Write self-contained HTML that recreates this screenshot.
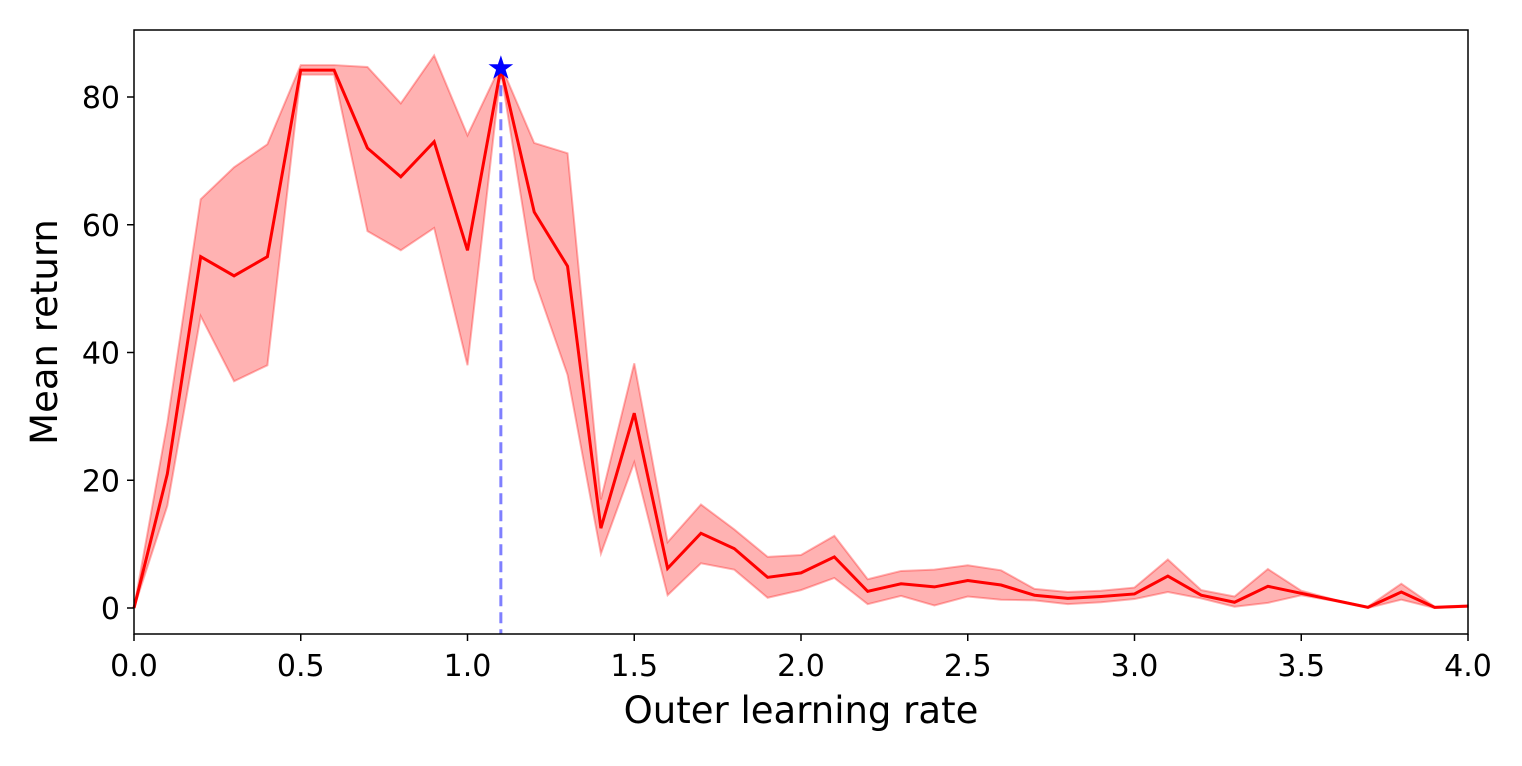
<!DOCTYPE html>
<html><head><meta charset="utf-8"><style>
body{margin:0;background:#fff;}
svg text{font-family:"DejaVu Sans","Liberation Sans",sans-serif;fill:#000;}
</style></head><body>
<svg id="chart" width="1522" height="761"></svg>
<script>
const xs = [0,0.1,0.2,0.3,0.4,0.5,0.6,0.7,0.8,0.9,1.0,1.1,1.2,1.3,1.4,1.5,1.6,1.7,1.8,1.9,2.0,2.1,2.2,2.3,2.4,2.5,2.6,2.7,2.8,2.9,3.0,3.1,3.2,3.3,3.4,3.5,3.6,3.7,3.8,3.9,4.0];
const meanVals = [0,21,55,52,55,84.2,84.2,72,67.5,73,56,84.5,62,53.5,12.5,30.5,6.2,11.7,9.3,4.8,5.5,8,2.6,3.8,3.3,4.3,3.6,2,1.5,1.8,2.2,5,2,0.9,3.4,2.3,1.2,0.1,2.5,0.1,0.3];
const upperVals = [0,29,64,69,72.6,85,85,84.7,79,86.5,74,85,72.8,71.2,17,38.3,10.3,16.2,12.3,8,8.3,11.3,4.5,5.8,6,6.7,5.9,3,2.5,2.7,3.2,7.6,2.8,1.8,6.1,2.7,1.3,0.2,3.8,0.2,0.4];
const lowerVals = [0,16,45.7,35.5,38,83.5,83.5,59,56,59.5,38,84,51.5,36.5,8.5,22.8,2,7,6,1.6,2.8,4.7,0.6,1.9,0.4,1.8,1.3,1.2,0.6,0.9,1.4,2.5,1.5,0.2,0.8,2,1.1,0,1.3,0,0.2];
const xTicks = [0,0.5,1.0,1.5,2.0,2.5,3.0,3.5,4.0];
const yTicks = [0,20,40,60,80];
const bestX = 1.1, bestY = 84.5;

const L=134,R=1468,T=30,B=634;
const sx=v=>L+(v-0)/4*(R-L);
const sy=v=>608-v*(608-97)/80;
const NS='http://www.w3.org/2000/svg';
const svg=document.getElementById('chart');
function mk(tag,attrs,parent){const e=document.createElementNS(NS,tag);for(const k in attrs)e.setAttribute(k,attrs[k]);(parent||svg).appendChild(e);return e;}

let d='M'+xs.map((x,i)=>sx(x)+','+sy(upperVals[i])).join('L');
for(let i=xs.length-1;i>=0;i--) d+='L'+sx(xs[i])+','+sy(lowerVals[i]);
const band=mk('path',{d:d+'Z',fill:'rgba(255,0,0,0.3)',stroke:'rgba(255,0,0,0.3)','stroke-width':2});



const vl=mk('line',{x1:sx(bestX),x2:sx(bestX),y1:sy(bestY),y2:B,stroke:'#7f7fff','stroke-width':3,'stroke-dasharray':'11,6'});



const ln=mk('polyline',{points:xs.map((x,i)=>sx(x)+','+sy(meanVals[i])).join(' '),fill:'none',stroke:'#ff0000','stroke-width':3,'stroke-linejoin':'miter'});



const cx=sx(bestX),cy=sy(bestY);let sp=[];
for(let k=0;k<10;k++){const r=k%2?5:13;const a=-Math.PI/2+k*Math.PI/5;sp.push((cx+r*Math.cos(a)).toFixed(1)+','+(cy+r*Math.sin(a)).toFixed(1));}
const st=mk('polygon',{points:sp.join(' '),fill:'#0000ff'});



const fr=mk('rect',{x:L,y:T,width:R-L,height:B-T,fill:'none',stroke:'#000','stroke-width':1.5});



xTicks.forEach(v=>{
  mk('line',{x1:sx(v),x2:sx(v),y1:B,y2:B+7,stroke:'#000','stroke-width':1.5});
  const t=mk('text',{x:sx(v),y:B+42,'text-anchor':'middle','font-size':30});
  t.textContent=v.toFixed(1);
  
  
});
yTicks.forEach(v=>{
  mk('line',{x1:L-7,x2:L,y1:sy(v),y2:sy(v),stroke:'#000','stroke-width':1.5});
  const t=mk('text',{x:L-14,y:sy(v)+11,'text-anchor':'end','font-size':30});
  t.textContent=v;
  
  
});
const xt=mk('text',{x:(L+R)/2,y:723,'text-anchor':'middle','font-size':37});
xt.textContent='Outer learning rate';


const yt=mk('text',{x:0,y:0,'text-anchor':'middle','font-size':37,transform:'translate(57,332) rotate(-90)'});
yt.textContent='Mean return';


</script>
</body></html>
